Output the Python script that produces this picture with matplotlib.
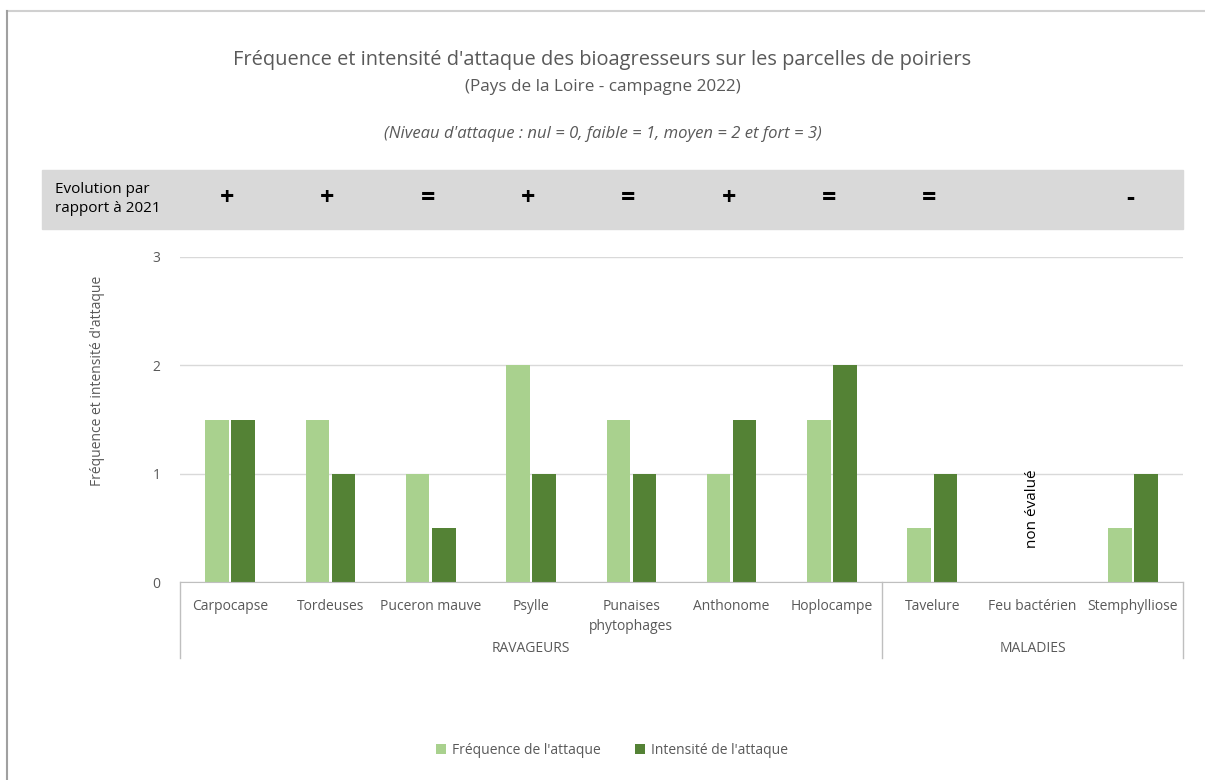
import numpy as np
import matplotlib
matplotlib.use('Agg')
import matplotlib.pyplot as plt
from matplotlib.patches import Rectangle
from matplotlib.transforms import blended_transform_factory

FONT = ['Liberation Sans Narrow', 'Open Sans', 'DejaVu Sans']
plt.rcParams['font.family'] = FONT

categories = ['Carpocapse', 'Tordeuses', 'Puceron mauve', 'Psylle', 'Punaises\nphytophages',
              'Anthonome', 'Hoplocampe', 'Tavelure', 'Feu bactérien', 'Stemphylliose']
frequence = [1.5, 1.5, 1, 2, 1.5, 1, 1.5, 0.5, np.nan, 0.5]
intensite = [1.5, 1, 0.5, 1, 1, 1.5, 2, 1, np.nan, 1]
evolution = ['+', '+', '=', '+', '=', '+', '=', '=', '', '-']
groups = [('RAVAGEURS', 0, 7), ('MALADIES', 7, 10)]

LIGHT = '#a9d18e'
DARK = '#548235'
GREY = '#595959'

fig = plt.figure(figsize=(12.05, 7.8), dpi=100)
ax = fig.add_axes([180 / 1205, 1 - 582 / 780, 1003 / 1205, 325 / 780])

x = np.arange(len(categories))
w = 0.235
ax.bar(x - 0.13, frequence, w, color=LIGHT, label="Fréquence de l'attaque")
ax.bar(x + 0.13, intensite, w, color=DARK, label="Intensité de l'attaque")

ax.set_xlim(-0.5, len(categories) - 0.5)
ax.set_ylim(0, 3)
ax.set_yticks([0, 1, 2, 3])
ax.yaxis.grid(True, color='#d9d9d9', lw=1)
ax.set_axisbelow(True)
for s in ['top', 'right', 'left']:
    ax.spines[s].set_visible(False)
ax.spines['bottom'].set_color('#bfbfbf')
ax.tick_params(axis='y', length=0, labelsize=10, labelcolor=GREY, pad=14)
ax.set_xticks(x)
ax.set_xticklabels(categories, fontsize=10, color=GREY, linespacing=1.5)
ax.tick_params(axis='x', length=0, pad=12)
ax.set_ylabel("Fréquence et intensité d'attaque", fontsize=10, color=GREY)
ax.yaxis.set_label_coords(-0.075, 0.62)

# group separators and group labels
tr = blended_transform_factory(ax.transData, ax.transAxes)
for xs in [-0.5, 6.5, 9.5]:
    ax.plot([xs, xs], [0, -0.234], color='#bfbfbf', lw=1, transform=tr, clip_on=False)
for name, a, b in groups:
    ax.text((a + b - 1) / 2, -0.205, name, transform=tr, ha='center', va='center',
            fontsize=10, color=GREY)

# non évalué
ax.text(8, 0.68, 'non évalué', rotation=90, ha='center', va='center', fontsize=11, color='black')

# evolution band
fig.patches.append(Rectangle((42 / 1205, 1 - 229 / 780), (1183 - 42) / 1205, 59 / 780,
                             transform=fig.transFigure, color='#d9d9d9', zorder=-1))
fig.text(55 / 1205, 1 - 199 / 780, 'Evolution par\nrapport à 2021', ha='left', va='center',
         fontsize=11, color='black', linespacing=1.3)
trf = blended_transform_factory(ax.transData, fig.transFigure)
for xi, sym in zip(x, evolution):
    ax.text(xi - 0.03, 1 - 198 / 780, sym, transform=trf, ha='center', va='center',
            fontsize=18, fontweight='bold', color='black', zorder=5)

# titles
fig.text(0.5, 1 - 60 / 780, "Fréquence et intensité d'attaque des bioagresseurs sur les parcelles de poiriers",
         ha='center', va='center', fontsize=14.4, color=GREY)
fig.text(0.5, 1 - 87 / 780, '(Pays de la Loire - campagne 2022)', ha='center', va='center',
         fontsize=12.3, color=GREY)
fig.text(0.5, 1 - 134 / 780, "(Niveau d'attaque : nul = 0, faible = 1, moyen = 2 et fort = 3)",
         ha='center', va='center', fontsize=12, color=GREY, style='italic')

# outer frame
fig.add_artist(plt.Line2D([7 / 1205, 1], [1 - 11 / 780] * 2, color='#d0d0d0', lw=1.5,
                          transform=fig.transFigure))
fig.add_artist(plt.Line2D([7 / 1205] * 2, [0, 1 - 11 / 780], color='#a0a0a0', lw=1.5,
                          transform=fig.transFigure))

fig.legend(loc='center', bbox_to_anchor=(612 / 1205, 1 - 750 / 780), ncol=2, frameon=False,
           fontsize=10, handlelength=0.7, handleheight=0.7, columnspacing=2.5, handletextpad=0.4,
           labelcolor=GREY)

fig.savefig('out.png', dpi=100)
